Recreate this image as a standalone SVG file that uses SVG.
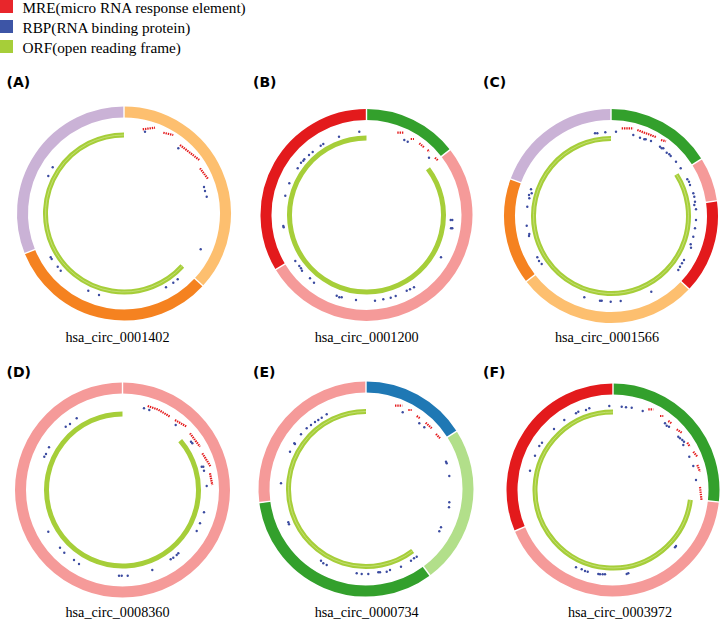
<svg xmlns="http://www.w3.org/2000/svg" width="720" height="620" viewBox="0 0 720 620">
<style>
.seg{fill:none;stroke-width:11}
.sep{stroke:#fff;stroke-width:1.4}
.orf{fill:none;stroke:#A6CE39;stroke-width:5}
.orf2{fill:none;stroke:#C6E07C;stroke-width:0.9}
.b{fill:#3B4BA0}
.r{stroke:#E41A1C;stroke-width:2.2;stroke-dasharray:1.4 0.9;fill:none}
.lab{font-family:"DejaVu Sans",sans-serif;font-weight:bold;font-size:14px;fill:#000}
.cap{font-family:"Liberation Serif",serif;font-size:14.2px;fill:#000;text-anchor:middle}
.leg{font-family:"Liberation Serif",serif;font-size:15.25px;fill:#000}
.lo{stroke:#FDBF6F}.do{stroke:#F58220}.lv{stroke:#CAB2D6}.rd{stroke:#E31A1C}.pk{stroke:#F59A99}.gr{stroke:#33A02C}.bl{stroke:#1F78B4}.lg{stroke:#B2DF8A}
</style>
<rect width="720" height="620" fill="#fff"/>
<g id="legend">
<rect x="0" y="0" width="13" height="13" fill="#E8262B"/>
<rect x="0" y="20" width="13" height="13" fill="#3D55A6"/>
<rect x="0" y="40" width="13" height="13" fill="#A6CE39"/>
<text class="leg" x="22.5" y="12.5">MRE(micro RNA response element)</text>
<text class="leg" x="22.5" y="33">RBP(RNA binding protein)</text>
<text class="leg" x="22.5" y="52.5">ORF(open reading frame)</text>
</g>
<g id="panelA">
<text class="lab" x="6.5" y="87">(A)</text>
<path class="seg lo" d="M124,112 A101.5,101.5 0 0 1 198.83,282.07"/>
<path class="seg do" d="M198.83,282.07 A101.5,101.5 0 0 1 29.89,251.52"/>
<path class="seg lv" d="M29.89,251.52 A101.5,101.5 0 0 1 124,112"/>
<line class="sep" x1="124" y1="118.5" x2="124" y2="105.5"/>
<line class="sep" x1="194.04" y1="277.68" x2="203.63" y2="286.46"/>
<line class="sep" x1="35.92" y1="249.09" x2="23.86" y2="253.96"/>
<path class="orf" d="M182.33,266.03 A78.5,78.5 0 1 1 124,135"/>
<path class="orf2" d="M182.33,266.03 A78.5,78.5 0 1 1 124,135"/>
<path class="r" d="M142.7,129.3 L155,127.7 M163.3,132.7 L173.3,135 M180,145 L199.3,160 M200,168.3 L208.3,179.3"/>
<circle class="b" cx="145" cy="131.7" r="1.2"/><circle class="b" cx="178.3" cy="148.3" r="1.2"/>
<circle class="b" cx="204" cy="187" r="1.2"/><circle class="b" cx="205" cy="191" r="1.2"/>
<circle class="b" cx="206.7" cy="196.7" r="1.2"/><circle class="b" cx="200.7" cy="249.3" r="1.2"/>
<circle class="b" cx="177.7" cy="279.3" r="1.2"/><circle class="b" cx="173.3" cy="282.7" r="1.2"/>
<circle class="b" cx="166" cy="287.3" r="1.2"/><circle class="b" cx="99" cy="295" r="1.2"/>
<circle class="b" cx="88.3" cy="290.7" r="1.2"/><circle class="b" cx="60.7" cy="270.7" r="1.2"/>
<circle class="b" cx="57.7" cy="266.7" r="1.2"/><circle class="b" cx="51.7" cy="259" r="1.2"/>
<circle class="b" cx="50.7" cy="257.3" r="1.2"/><circle class="b" cx="52.7" cy="167.3" r="1.2"/>
<circle class="b" cx="48.3" cy="176" r="1.2"/>
<text class="cap" x="117.5" y="341.7">hsa_circ_0001402</text>
</g>
<g id="panelB">
<text class="lab" x="253" y="87">(B)</text>
<path class="seg gr" d="M366.5,114.5 A100.5,100.5 0 0 1 445.69,153.12"/>
<path class="seg pk" d="M445.69,153.12 A100.5,100.5 0 1 1 280.35,266.76"/>
<path class="seg rd" d="M280.35,266.76 A100.5,100.5 0 0 1 366.5,114.5"/>
<line class="sep" x1="366.5" y1="121" x2="366.5" y2="108"/>
<line class="sep" x1="440.57" y1="157.12" x2="450.82" y2="149.12"/>
<line class="sep" x1="285.92" y1="263.41" x2="274.78" y2="270.11"/>
<path class="orf" d="M427.99,168.66 A77,77 0 1 1 366.5,138"/>
<path class="r" d="M397.3,132.7 L404,132.7 M410.7,139 L414,139 M419.3,143.3 L424,147.3 M427.5,150 L429.5,151.5 M435,157.7 L438.3,160.7"/>
<circle class="b" cx="359.3" cy="131.7" r="1.2"/><circle class="b" cx="339" cy="136.7" r="1.2"/>
<circle class="b" cx="323.3" cy="144" r="1.2"/><circle class="b" cx="320.7" cy="145.7" r="1.2"/>
<circle class="b" cx="312.7" cy="152" r="1.2"/><circle class="b" cx="309" cy="155" r="1.2"/>
<circle class="b" cx="304.3" cy="159.3" r="1.2"/><circle class="b" cx="303.3" cy="160.7" r="1.2"/>
<circle class="b" cx="301" cy="162.7" r="1.2"/><circle class="b" cx="297.7" cy="168.3" r="1.2"/>
<circle class="b" cx="289.3" cy="183.3" r="1.2"/><circle class="b" cx="285.3" cy="195.7" r="1.2"/>
<circle class="b" cx="283.3" cy="226" r="1.2"/><circle class="b" cx="283.7" cy="227.3" r="1.2"/>
<circle class="b" cx="295.3" cy="261" r="1.2"/><circle class="b" cx="299.3" cy="266" r="1.2"/>
<circle class="b" cx="301" cy="268.3" r="1.2"/><circle class="b" cx="302" cy="270.7" r="1.2"/>
<circle class="b" cx="310" cy="278.3" r="1.2"/><circle class="b" cx="314" cy="282.7" r="1.2"/>
<circle class="b" cx="336.7" cy="295.7" r="1.2"/><circle class="b" cx="339.3" cy="297.3" r="1.2"/>
<circle class="b" cx="341.7" cy="297.3" r="1.2"/><circle class="b" cx="356" cy="300" r="1.2"/>
<circle class="b" cx="375" cy="300.7" r="1.2"/><circle class="b" cx="383.3" cy="299.3" r="1.2"/>
<circle class="b" cx="390.7" cy="297.7" r="1.2"/><circle class="b" cx="395.7" cy="296" r="1.2"/>
<circle class="b" cx="406.7" cy="290.7" r="1.2"/><circle class="b" cx="410" cy="289.3" r="1.2"/>
<circle class="b" cx="414" cy="287.3" r="1.2"/><circle class="b" cx="441" cy="257.3" r="1.2"/>
<circle class="b" cx="450.7" cy="220" r="1.2"/><circle class="b" cx="452.3" cy="220" r="1.2"/>
<circle class="b" cx="451" cy="228.3" r="1.2"/><circle class="b" cx="452.3" cy="228.3" r="1.2"/>
<circle class="b" cx="404.3" cy="140" r="1.2"/><circle class="b" cx="407.7" cy="141.7" r="1.2"/>
<circle class="b" cx="429" cy="157.7" r="1.2"/>
<text class="cap" x="366.7" y="341.7">hsa_circ_0001200</text>
</g>
<g id="panelC">
<text class="lab" x="483" y="87">(C)</text>
<path class="seg gr" d="M611,114.5 A101.5,101.5 0 0 1 696.89,161.91"/>
<path class="seg pk" d="M696.89,161.91 A101.5,101.5 0 0 1 711.46,201.53"/>
<path class="seg rd" d="M711.46,201.53 A101.5,101.5 0 0 1 685.12,285.35"/>
<path class="seg lo" d="M685.12,285.35 A101.5,101.5 0 0 1 530.69,278.07"/>
<path class="seg do" d="M530.69,278.07 A101.5,101.5 0 0 1 515.74,180.95"/>
<path class="seg lv" d="M515.74,180.95 A101.5,101.5 0 0 1 611,114.5"/>
<line class="sep" x1="611" y1="121" x2="611" y2="108"/>
<line class="sep" x1="691.39" y1="165.37" x2="702.39" y2="158.45"/>
<line class="sep" x1="705.03" y1="202.45" x2="717.9" y2="200.6"/>
<line class="sep" x1="680.37" y1="280.91" x2="689.86" y2="289.8"/>
<line class="sep" x1="535.84" y1="274.09" x2="525.55" y2="282.04"/>
<line class="sep" x1="521.84" y1="183.2" x2="509.64" y2="178.71"/>
<path class="orf" d="M676.43,174.48 A77.5,77.5 0 1 1 611,138.5"/>
<path class="orf2" d="M676.43,174.48 A77.5,77.5 0 1 1 611,138.5"/>
<path class="r" d="M621.7,128.3 L633.3,128.3 M637.3,130 L656.7,137.3 M661,140 L666,141.3"/>
<circle class="b" cx="595" cy="133.3" r="1.2"/><circle class="b" cx="597.3" cy="133.3" r="1.2"/>
<circle class="b" cx="605.3" cy="132.3" r="1.2"/><circle class="b" cx="616" cy="131.7" r="1.2"/>
<circle class="b" cx="633.3" cy="135" r="1.2"/><circle class="b" cx="640" cy="137.7" r="1.2"/>
<circle class="b" cx="644.3" cy="139.3" r="1.2"/><circle class="b" cx="645.7" cy="139.3" r="1.2"/>
<circle class="b" cx="651" cy="141" r="1.2"/><circle class="b" cx="660" cy="146.7" r="1.2"/>
<circle class="b" cx="661.7" cy="148.3" r="1.2"/><circle class="b" cx="663.3" cy="148.3" r="1.2"/>
<circle class="b" cx="666.7" cy="152.7" r="1.2"/><circle class="b" cx="669.3" cy="154.3" r="1.2"/>
<circle class="b" cx="670.7" cy="156" r="1.2"/><circle class="b" cx="676" cy="161.7" r="1.2"/>
<circle class="b" cx="680.7" cy="168.3" r="1.2"/><circle class="b" cx="687.3" cy="179.3" r="1.2"/>
<circle class="b" cx="689" cy="181.7" r="1.2"/><circle class="b" cx="690" cy="185" r="1.2"/>
<circle class="b" cx="693.3" cy="193.3" r="1.2"/><circle class="b" cx="694.3" cy="196.7" r="1.2"/>
<circle class="b" cx="695" cy="201.7" r="1.2"/><circle class="b" cx="694.3" cy="205" r="1.2"/>
<circle class="b" cx="696" cy="209.3" r="1.2"/><circle class="b" cx="696" cy="220" r="1.2"/>
<circle class="b" cx="695" cy="228.3" r="1.2"/><circle class="b" cx="693.3" cy="236.7" r="1.2"/>
<circle class="b" cx="690.7" cy="244.3" r="1.2"/><circle class="b" cx="691" cy="247.7" r="1.2"/>
<circle class="b" cx="684" cy="260" r="1.2"/><circle class="b" cx="682" cy="263.3" r="1.2"/>
<circle class="b" cx="680" cy="266.7" r="1.2"/><circle class="b" cx="678.3" cy="270" r="1.2"/>
<circle class="b" cx="651.3" cy="291.7" r="1.2"/><circle class="b" cx="620.7" cy="301" r="1.2"/>
<circle class="b" cx="610.7" cy="301.7" r="1.2"/><circle class="b" cx="601.7" cy="300.7" r="1.2"/>
<circle class="b" cx="600" cy="300.7" r="1.2"/><circle class="b" cx="584.3" cy="297.3" r="1.2"/>
<circle class="b" cx="541.7" cy="264" r="1.2"/><circle class="b" cx="539" cy="261" r="1.2"/>
<circle class="b" cx="537.3" cy="257.3" r="1.2"/><circle class="b" cx="529" cy="236" r="1.2"/>
<circle class="b" cx="529.3" cy="234" r="1.2"/><circle class="b" cx="526.7" cy="225.7" r="1.2"/>
<circle class="b" cx="527.3" cy="206.7" r="1.2"/><circle class="b" cx="529.3" cy="198.3" r="1.2"/>
<circle class="b" cx="531.7" cy="193.3" r="1.2"/><circle class="b" cx="531" cy="189.3" r="1.2"/>
<circle class="b" cx="529" cy="195" r="1.2"/>
<text class="cap" x="607" y="341.7">hsa_circ_0001566</text>
</g>
<g id="panelD">
<text class="lab" x="6.5" y="376.5">(D)</text>
<circle class="seg pk" cx="122.5" cy="490" r="102"/>
<line class="sep" x1="122.5" y1="395" x2="122.5" y2="382"/>
<path class="orf" d="M180.21,440.54 A76,76 0 1 1 122.5,414"/>
<path class="r" d="M147.7,406 L158,409.5 L170,416.7 M175,420 L186.7,426.7 M190,433.3 L200,446.7 M202.3,453.3 L210.7,466.7 M210,473.3 L212.3,485"/>
<circle class="b" cx="144" cy="408.3" r="1.2"/><circle class="b" cx="149.3" cy="410" r="1.2"/>
<circle class="b" cx="175.7" cy="425" r="1.2"/><circle class="b" cx="191" cy="441.7" r="1.2"/>
<circle class="b" cx="192.3" cy="443.3" r="1.2"/><circle class="b" cx="203.3" cy="466.7" r="1.2"/>
<circle class="b" cx="204" cy="470.7" r="1.2"/><circle class="b" cx="201.7" cy="466.7" r="1.2"/>
<circle class="b" cx="206.7" cy="486" r="1.2"/><circle class="b" cx="204" cy="512.3" r="1.2"/>
<circle class="b" cx="200" cy="523.3" r="1.2"/><circle class="b" cx="196.7" cy="531" r="1.2"/>
<circle class="b" cx="178.3" cy="553.3" r="1.2"/><circle class="b" cx="176.7" cy="555" r="1.2"/>
<circle class="b" cx="173.3" cy="557.7" r="1.2"/><circle class="b" cx="170.7" cy="559.3" r="1.2"/>
<circle class="b" cx="152.3" cy="570" r="1.2"/><circle class="b" cx="127.7" cy="575.7" r="1.2"/>
<circle class="b" cx="121.7" cy="575.7" r="1.2"/><circle class="b" cx="119" cy="575.7" r="1.2"/>
<circle class="b" cx="79" cy="564" r="1.2"/><circle class="b" cx="74" cy="560" r="1.2"/>
<circle class="b" cx="64.3" cy="552.7" r="1.2"/><circle class="b" cx="60" cy="547.7" r="1.2"/>
<circle class="b" cx="48.3" cy="531.7" r="1.2"/><circle class="b" cx="49" cy="447.3" r="1.2"/>
<circle class="b" cx="46" cy="454" r="1.2"/><circle class="b" cx="44.3" cy="456.7" r="1.2"/>
<circle class="b" cx="76.7" cy="418.3" r="1.2"/><circle class="b" cx="70" cy="424" r="1.2"/>
<circle class="b" cx="65.7" cy="426.7" r="1.2"/>
<text class="cap" x="117.5" y="616.7">hsa_circ_0008360</text>
</g>
<g id="panelE">
<text class="lab" x="253" y="376.5">(E)</text>
<path class="seg bl" d="M366,387 A102,102 0 0 1 452.03,434.2"/>
<path class="seg lg" d="M452.03,434.2 A102,102 0 0 1 426.67,571"/>
<path class="seg gr" d="M426.67,571 A102,102 0 0 1 264.83,501.96"/>
<path class="seg pk" d="M264.83,501.96 A102,102 0 0 1 366,387"/>
<line class="sep" x1="366" y1="393.5" x2="366" y2="380.5"/>
<line class="sep" x1="446.54" y1="437.69" x2="457.51" y2="430.7"/>
<line class="sep" x1="422.8" y1="565.77" x2="430.54" y2="576.22"/>
<line class="sep" x1="271.27" y1="501.14" x2="258.38" y2="502.79"/>
<path class="orf" d="M412.64,550.89 A77.5,77.5 0 1 1 366,411.5"/>
<path class="orf2" d="M412.64,550.89 A77.5,77.5 0 1 1 366,411.5"/>
<path class="r" d="M395,405.7 L402.3,405.7 M408.3,410 L411.7,410 M416.7,416 L420,418.3 M425.7,422.7 L431.7,428.3 M436,434 L440,438.3"/>
<circle class="b" cx="402.7" cy="412.3" r="1.2"/><circle class="b" cx="419.3" cy="423.3" r="1.2"/>
<circle class="b" cx="424.3" cy="427.3" r="1.2"/><circle class="b" cx="446" cy="461.7" r="1.2"/>
<circle class="b" cx="446.7" cy="463.3" r="1.2"/><circle class="b" cx="449.3" cy="476" r="1.2"/>
<circle class="b" cx="449.3" cy="502.3" r="1.2"/><circle class="b" cx="449" cy="507.3" r="1.2"/>
<circle class="b" cx="441" cy="527.3" r="1.2"/><circle class="b" cx="439.3" cy="531.3" r="1.2"/>
<circle class="b" cx="416.7" cy="556.7" r="1.2"/><circle class="b" cx="414" cy="558.3" r="1.2"/>
<circle class="b" cx="411" cy="560.7" r="1.2"/><circle class="b" cx="401" cy="566.7" r="1.2"/>
<circle class="b" cx="390" cy="570" r="1.2"/><circle class="b" cx="386.7" cy="571.7" r="1.2"/>
<circle class="b" cx="380" cy="572.3" r="1.2"/><circle class="b" cx="378.3" cy="572.3" r="1.2"/>
<circle class="b" cx="368.3" cy="574" r="1.2"/><circle class="b" cx="361.7" cy="574" r="1.2"/>
<circle class="b" cx="356.7" cy="573.3" r="1.2"/><circle class="b" cx="326.7" cy="565" r="1.2"/>
<circle class="b" cx="323.3" cy="563.3" r="1.2"/><circle class="b" cx="321" cy="560.7" r="1.2"/>
<circle class="b" cx="289" cy="524.3" r="1.2"/><circle class="b" cx="288.3" cy="522.3" r="1.2"/>
<circle class="b" cx="281" cy="483.3" r="1.2"/><circle class="b" cx="290" cy="451.7" r="1.2"/>
<circle class="b" cx="294.3" cy="443.3" r="1.2"/><circle class="b" cx="295" cy="444" r="1.2"/>
<circle class="b" cx="301" cy="434.3" r="1.2"/><circle class="b" cx="306.7" cy="428.3" r="1.2"/>
<circle class="b" cx="311" cy="425" r="1.2"/><circle class="b" cx="315" cy="422" r="1.2"/>
<circle class="b" cx="318.3" cy="420" r="1.2"/><circle class="b" cx="321.7" cy="417.7" r="1.2"/>
<circle class="b" cx="326.7" cy="414.3" r="1.2"/>
<text class="cap" x="366.7" y="616.7">hsa_circ_0000734</text>
</g>
<g id="panelF">
<text class="lab" x="483" y="376.5">(F)</text>
<path class="seg gr" d="M613,389 A101,101 0 0 1 713.35,501.43"/>
<path class="seg pk" d="M713.35,501.43 A101,101 0 0 1 519.83,528.98"/>
<path class="seg rd" d="M519.83,528.98 A101,101 0 0 1 613,389"/>
<line class="sep" x1="613" y1="395.5" x2="613" y2="382.5"/>
<line class="sep" x1="706.9" y1="500.7" x2="719.81" y2="502.17"/>
<line class="sep" x1="525.82" y1="526.47" x2="513.83" y2="531.48"/>
<path class="orf" d="M690.37,499.91 A78,78 0 1 1 613,412"/>
<path class="orf2" d="M690.37,499.91 A78,78 0 1 1 613,412"/>
<path class="r" d="M648.3,409.3 L653.3,409.3 M660,416 L663.3,416 M668.3,421 L671.7,423.3 M676.7,429.3 L681.7,432.7 M687.3,442.7 L690,446.7 M693.3,451.7 L697.3,456.7 M697.3,465 L700,471.7 M700,487 L701.5,500"/>
<circle class="b" cx="609.3" cy="406" r="1.2"/><circle class="b" cx="621.7" cy="406.7" r="1.2"/>
<circle class="b" cx="626" cy="407.3" r="1.2"/><circle class="b" cx="631.7" cy="407.7" r="1.2"/>
<circle class="b" cx="642.7" cy="411" r="1.2"/><circle class="b" cx="665" cy="423.3" r="1.2"/>
<circle class="b" cx="666.7" cy="425.7" r="1.2"/><circle class="b" cx="669" cy="426.7" r="1.2"/>
<circle class="b" cx="678.3" cy="436.7" r="1.2"/><circle class="b" cx="680" cy="438.3" r="1.2"/>
<circle class="b" cx="682.3" cy="440" r="1.2"/><circle class="b" cx="684" cy="441.7" r="1.2"/>
<circle class="b" cx="683.3" cy="445" r="1.2"/><circle class="b" cx="689.3" cy="456.7" r="1.2"/>
<circle class="b" cx="693.3" cy="466" r="1.2"/><circle class="b" cx="696" cy="480" r="1.2"/>
<circle class="b" cx="676" cy="546" r="1.2"/><circle class="b" cx="675" cy="547.3" r="1.2"/>
<circle class="b" cx="628.3" cy="573.3" r="1.2"/><circle class="b" cx="626.7" cy="574" r="1.2"/>
<circle class="b" cx="605" cy="574.3" r="1.2"/><circle class="b" cx="602.7" cy="574.3" r="1.2"/>
<circle class="b" cx="600" cy="574.3" r="1.2"/><circle class="b" cx="598.3" cy="574" r="1.2"/>
<circle class="b" cx="587.7" cy="571.7" r="1.2"/><circle class="b" cx="585" cy="571" r="1.2"/>
<circle class="b" cx="581.7" cy="569.3" r="1.2"/><circle class="b" cx="576" cy="567.3" r="1.2"/>
<circle class="b" cx="530" cy="470.7" r="1.2"/><circle class="b" cx="535" cy="455.7" r="1.2"/>
<circle class="b" cx="539.3" cy="446" r="1.2"/><circle class="b" cx="542" cy="442.7" r="1.2"/>
<circle class="b" cx="554" cy="429" r="1.2"/><circle class="b" cx="564.3" cy="420" r="1.2"/>
<circle class="b" cx="576" cy="413.3" r="1.2"/><circle class="b" cx="578.3" cy="411.7" r="1.2"/>
<circle class="b" cx="586" cy="410" r="1.2"/><circle class="b" cx="589.3" cy="408.3" r="1.2"/>
<text class="cap" x="620" y="616.7">hsa_circ_0003972</text>
</g>
</svg>
